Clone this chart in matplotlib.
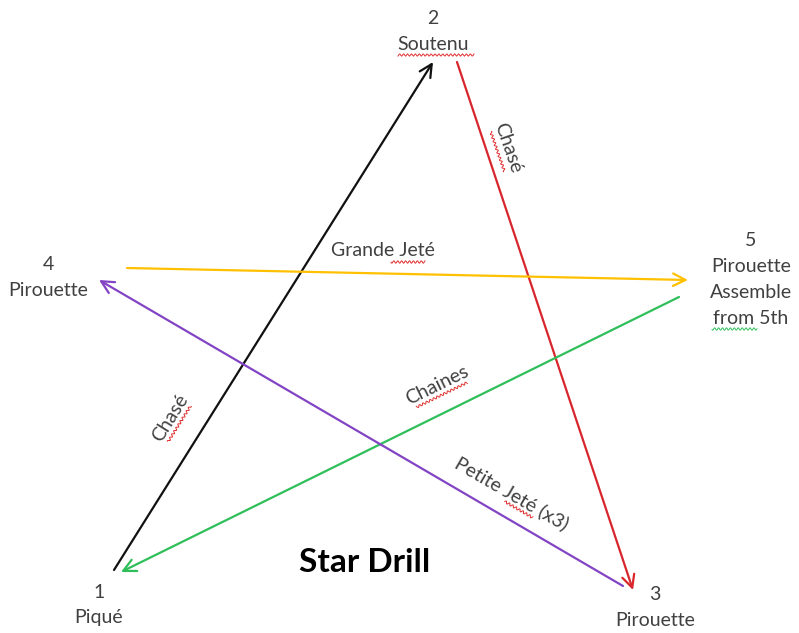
import numpy as np
import matplotlib.pyplot as plt

# Puntos de la estrella (coordenadas de la imagen, en píxeles)
stations = ["1", "2", "3", "4", "5"]
steps = [["Piqué"], ["Soutenu"], ["Pirouette"], ["Pirouette"], ["Pirouette", "Assemble", "from 5th"]]
label_xy = [(99, 592), (433, 18), (655, 595), (48, 265), (751, 240)]

# Flechas: inicio, fin, color
arrow_start = [(114, 570), (457, 62), (127, 268), (679, 297), (623, 586)]
arrow_end = [(433, 62), (633, 590), (688, 280), (121, 572), (99, 280)]
arrow_colors = ["#111111", "#d8262c", "#ffc000", "#2fbf5a", "#8244c4"]

# Textos sobre las flechas
moves = ["Chasé", "Chasé", "Grande Jeté", "Chaines", "Petite Jeté (x3)"]
move_xy = [(170, 418), (508, 148), (383, 251), (437, 385), (512, 493)]
move_rot = [58, -71, 0, 26, -30]
# tramo subrayado (a lo largo del texto, desde su centro)
move_ul = [(-21, 21), (-21, 21), (8, 42), (-28, 28), (-2, 30)]

title = "Star Drill"

plt.rcParams['font.family'] = ['Lato', 'DejaVu Sans']
fig = plt.figure(figsize=(7.99, 6.33), dpi=100)
ax = fig.add_axes([0, 0, 1, 1])
ax.set_xlim(0, 799)
ax.set_ylim(633, 0)
ax.axis('off')

txt = "#404040"
fs = 14

for p0, p1, c in zip(arrow_start, arrow_end, arrow_colors):
    ax.annotate("", xy=p1, xytext=p0,
                arrowprops=dict(arrowstyle="->,head_length=0.9,head_width=0.45",
                                color=c, lw=1.6, shrinkA=0, shrinkB=0))


# Subrayado ondulado del corrector
def squiggle(cx, cy, u0, u1, ang, color, d=11):
    a = np.deg2rad(ang)
    t = np.array([np.cos(a), -np.sin(a)])
    n = np.array([np.sin(a), np.cos(a)])
    s = np.linspace(u0, u1, 80)
    w = d + 1.2 * np.sin(s * 1.6)
    xs = cx + s * t[0] + w * n[0]
    ys = cy + s * t[1] + w * n[1]
    ax.plot(xs, ys, color=color, lw=0.7)


for s, lines, (x, y) in zip(stations, steps, label_xy):
    ax.text(x, y, s, ha='center', va='center', fontsize=fs, color=txt)
    for i, t in enumerate(lines):
        ax.text(x, y + 26 + 26 * i, t, ha='center', va='center', fontsize=fs, color=txt)

squiggle(436, 44, -38, 38, 0, "#e03030")
squiggle(751, 318, -39, 6, 0, "#2fbf5a")

for t, (x, y), r, (u0, u1) in zip(moves, move_xy, move_rot, move_ul):
    ax.text(x, y, t, ha='center', va='center', fontsize=fs, color=txt,
            rotation=r, rotation_mode='anchor')
    squiggle(x, y, u0, u1, r, "#e03030")

ax.text(365, 563, title, ha='center', va='center', fontsize=24,
        fontweight='bold', color='black')

fig.savefig("out.png", dpi=100)
